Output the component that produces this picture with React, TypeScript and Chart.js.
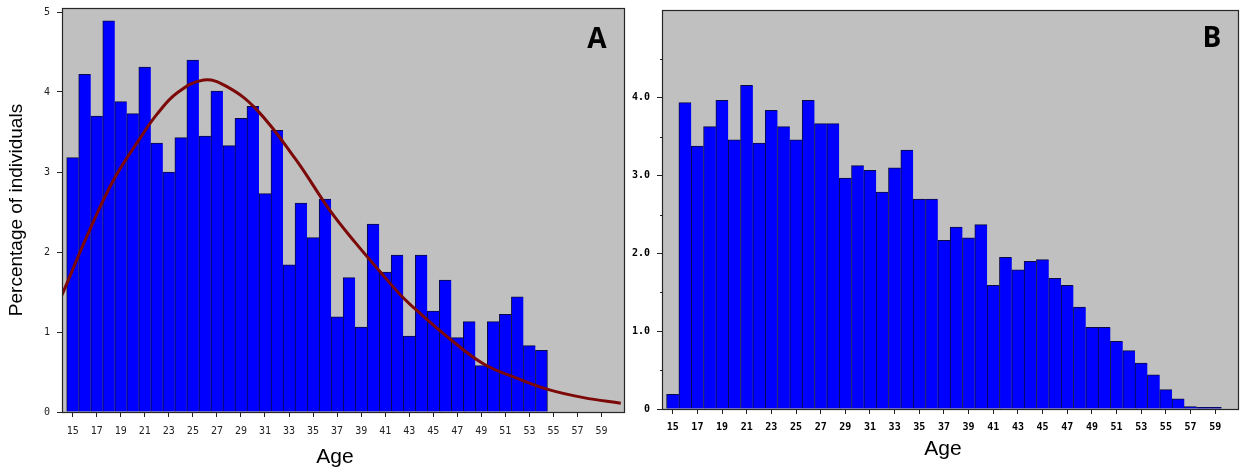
import React, { useEffect, useRef } from "react";
import { Chart, registerables } from "chart.js";

Chart.register(...registerables);

// ---------- data ----------
const agesA = [15, 16, 17, 18, 19, 20, 21, 22, 23, 24, 25, 26, 27, 28, 29, 30, 31, 32, 33, 34, 35, 36, 37, 38, 39, 40, 41, 42, 43, 44, 45, 46, 47, 48, 49, 50, 51, 52, 53, 54];
const pctA = [3.18, 4.22, 3.70, 4.89, 3.88, 3.73, 4.31, 3.36, 3.00, 3.43, 4.40, 3.45, 4.01, 3.33, 3.67, 3.82, 2.73, 3.52, 1.84, 2.61, 2.18, 2.66, 1.19, 1.68, 1.06, 2.35, 1.75, 1.96, 0.95, 1.96, 1.26, 1.65, 0.93, 1.13, 0.58, 1.13, 1.22, 1.44, 0.83, 0.77];

const curveAges = [14.1, 16.4, 18.4, 20.6, 22.0, 23.7, 25.9, 27.8, 30.3, 33.5, 36.4, 38.5, 40.6, 42.3, 43.7, 46.5, 49.2, 52.0, 54.6, 57.5, 60.6];
const curveVals = [1.46, 2.27, 2.90, 3.42, 3.72, 3.99, 4.15, 4.07, 3.78, 3.17, 2.52, 2.12, 1.75, 1.46, 1.26, 0.90, 0.60, 0.42, 0.28, 0.18, 0.11];

const agesB = [15, 16, 17, 18, 19, 20, 21, 22, 23, 24, 25, 26, 27, 28, 29, 30, 31, 32, 33, 34, 35, 36, 37, 38, 39, 40, 41, 42, 43, 44, 45, 46, 47, 48, 49, 50, 51, 52, 53, 54, 55, 56, 57, 58, 59];
const pctB = [0.19, 3.94, 3.38, 3.63, 3.97, 3.46, 4.16, 3.42, 3.84, 3.63, 3.46, 3.97, 3.67, 3.67, 2.97, 3.13, 3.07, 2.79, 3.10, 3.33, 2.70, 2.70, 2.17, 2.34, 2.20, 2.37, 1.59, 1.95, 1.79, 1.90, 1.92, 1.68, 1.59, 1.31, 1.05, 1.05, 0.87, 0.75, 0.59, 0.44, 0.25, 0.13, 0.03, 0.02, 0.02];

const xTickValues = [15, 17, 19, 21, 23, 25, 27, 29, 31, 33, 35, 37, 39, 41, 43, 45, 47, 49, 51, 53, 55, 57, 59];
const xTickLabels = ["15", "17", "19", "21", "23", "25", "27", "29", "31", "33", "35", "37", "39", "41", "43", "45", "47", "49", "51", "53", "55", "57", "59"];

const yTickValuesA = [0, 1, 2, 3, 4, 5];
const yTickLabelsA = ["0", "1", "2", "3", "4", "5"];

const yTickValuesB = [0, 0.5, 1, 1.5, 2, 2.5, 3, 3.5, 4, 4.5];
const yTickLabelsB = ["0", "", "1.0", "", "2.0", "", "3.0", "", "4.0", ""];

const yTitleA = "Percentage of individuals";
const xTitle = "Age";

// ---------- plugins ----------
const decorPlugin = {
  id: "decor",
  beforeDraw(chart: any) {
    const { ctx, chartArea: a } = chart;
    ctx.save();
    ctx.fillStyle = "#c0c0c0";
    ctx.fillRect(a.left, a.top, a.right - a.left, a.bottom - a.top);
    ctx.restore();
  },
  afterDraw(chart: any, _args: any, opts: any) {
    const { ctx, chartArea: a } = chart;
    ctx.save();
    ctx.strokeStyle = "#262626";
    ctx.lineWidth = 1.2;
    ctx.strokeRect(Math.round(a.left) + 0.5, Math.round(a.top) + 0.5, Math.round(a.right - a.left), Math.round(a.bottom - a.top));
    if (opts.minorTicks) {
      const y = chart.scales.y;
      ctx.strokeStyle = "#222";
      ctx.lineWidth = 1;
      y.ticks.forEach((t: any, i: number) => {
        if (yTickLabelsB[i] === "") {
          const py = Math.round(y.getPixelForValue(t.value)) + 0.5;
          ctx.beginPath();
          ctx.moveTo(a.left - 2, py);
          ctx.lineTo(a.left, py);
          ctx.stroke();
        }
      });
    }
    ctx.fillStyle = "#000";
    ctx.font = "bold 28px 'Open Sans', 'Liberation Sans', sans-serif";
    ctx.textAlign = "center";
    ctx.textBaseline = "middle";
    ctx.fillText(opts.letter, opts.letterX, opts.letterY);
    ctx.font = "21px 'Liberation Sans', Arial, sans-serif";
    ctx.fillText(xTitle, opts.titleX, opts.titleY);
    ctx.restore();
  },
};

type PanelProps = { width: number; left: number; cfg: any };

function Panel({ width, left, cfg }: PanelProps) {
  const ref = useRef<HTMLCanvasElement | null>(null);
  useEffect(() => {
    if (!ref.current) return;
    const chart = new Chart(ref.current, cfg);
    return () => chart.destroy();
  }, []);
  return (
    <canvas
      ref={ref}
      width={width}
      height={471}
      style={{ position: "absolute", left, top: 0, width, height: 471 }}
    />
  );
}

function makeBarWidths(n: number) {
  return (c: any) =>
    c.dataIndex === n - 1
      ? { left: 1, top: 1, right: 1, bottom: 0 }
      : { left: 1, top: 1, right: 0, bottom: 0 };
}

function fixY(width: number) {
  return (s: any) => {
    s.width = width;
    s.paddingTop = 0;
    s.paddingBottom = 0;
  };
}
function fixX(height: number) {
  return (s: any) => {
    s.height = height;
    s.paddingLeft = 0;
    s.paddingRight = 0;
  };
}

const cfgA: any = {
  type: "bar",
  data: {
    datasets: [
      {
        type: "line",
        label: "fit",
        data: curveAges.map((a, i) => ({ x: a, y: curveVals[i] })),
        borderColor: "#7c0808",
        borderWidth: 3,
        pointRadius: 0,
        tension: 0.4,
        fill: false,
        order: 0,
      },
      {
        type: "bar",
        label: "A",
        data: agesA.map((a, i) => ({ x: a, y: pctA[i] })),
        backgroundColor: "#0000ff",
        borderColor: "#0a0a40",
        borderWidth: makeBarWidths(agesA.length),
        borderSkipped: false,
        categoryPercentage: 1,
        barPercentage: 1,
        order: 1,
      },
    ],
  },
  options: {
    animation: false,
    responsive: false,
    events: [],
    layout: { padding: { top: 8, right: 6, left: 0, bottom: 0 } },
    plugins: {
      legend: { display: false },
      tooltip: { enabled: false },
      decor: { letter: "A", letterX: 597, letterY: 40, titleX: 335, titleY: 457, minorTicks: false },
    },
    scales: {
      x: {
        type: "linear",
        offset: false,
        min: 14.11,
        max: 60.87,
        afterBuildTicks: (s: any) => {
          s.ticks = xTickValues.map((v) => ({ value: v }));
        },
        afterFit: fixX(59),
        grid: { display: true, drawOnChartArea: false, drawTicks: true, tickLength: 5, color: "#222", offset: false },
        border: { display: false },
        ticks: {
          autoSkip: false,
          maxRotation: 0,
          padding: 8,
          color: "#222",
          font: { family: "'DejaVu Sans Mono', monospace", size: 10 },
          callback: (_v: any, i: number) => xTickLabels[i],
        },
      },
      y: {
        type: "linear",
        min: 0,
        max: 5.05,
        afterBuildTicks: (s: any) => {
          s.ticks = yTickValuesA.map((v) => ({ value: v }));
        },
        afterFit: fixY(62),
        grid: { display: true, drawOnChartArea: false, drawTicks: true, tickLength: 5, color: "#222" },
        border: { display: false },
        title: {
          display: true,
          text: yTitleA,
          color: "#000",
          font: { family: "'Liberation Sans', Arial, sans-serif", size: 19 },
          padding: { top: 5, bottom: 0 },
        },
        ticks: {
          padding: 7,
          color: "#222",
          font: { family: "'DejaVu Sans Mono', monospace", size: 10 },
          callback: (_v: any, i: number) => yTickLabelsA[i],
        },
      },
    },
  },
  plugins: [decorPlugin],
};

const cfgB: any = {
  type: "bar",
  data: {
    datasets: [
      {
        type: "bar",
        label: "B",
        data: agesB.map((a, i) => ({ x: a, y: pctB[i] })),
        backgroundColor: "#0000ff",
        borderColor: "#0a0a40",
        borderWidth: makeBarWidths(agesB.length),
        borderSkipped: false,
        categoryPercentage: 1,
        barPercentage: 1,
      },
    ],
  },
  options: {
    animation: false,
    responsive: false,
    events: [],
    layout: { padding: { top: 10, right: 6, left: 0, bottom: 0 } },
    plugins: {
      legend: { display: false },
      tooltip: { enabled: false },
      decor: { letter: "B", letterX: 582, letterY: 39, titleX: 313, titleY: 449, minorTicks: true },
    },
    scales: {
      x: {
        type: "linear",
        offset: false,
        min: 14.13,
        max: 60.85,
        afterBuildTicks: (s: any) => {
          s.ticks = xTickValues.map((v) => ({ value: v }));
        },
        afterFit: fixX(62),
        grid: { display: true, drawOnChartArea: false, drawTicks: true, tickLength: 5, color: "#222", offset: false },
        border: { display: false },
        ticks: {
          autoSkip: false,
          maxRotation: 0,
          padding: 7,
          color: "#000",
          font: { family: "'DejaVu Sans Mono', monospace", size: 10, weight: "bold" },
          callback: (_v: any, i: number) => xTickLabels[i],
        },
      },
      y: {
        type: "linear",
        min: 0,
        max: 5.13,
        afterBuildTicks: (s: any) => {
          s.ticks = yTickValuesB.map((v) => ({ value: v }));
        },
        afterFit: fixY(32),
        grid: {
          display: true,
          drawOnChartArea: false,
          drawTicks: true,
          tickLength: 5,
          color: (c: any) => (c.tick && c.tick.value % 1 === 0 ? "#222" : "rgba(0,0,0,0)"),
        },
        border: { display: false },
        ticks: {
          padding: 7,
          color: "#000",
          font: { family: "'DejaVu Sans Mono', monospace", size: 10, weight: "bold" },
          callback: (_v: any, i: number) => yTickLabelsB[i],
        },
      },
    },
  },
  plugins: [decorPlugin],
};

export default function App() {
  return (
    <div style={{ position: "absolute", left: 0, top: 0, width: 1244, height: 471, background: "#fff" }}>
      <Panel width={630} left={0} cfg={cfgA} />
      <Panel width={614} left={630} cfg={cfgB} />
    </div>
  );
}
